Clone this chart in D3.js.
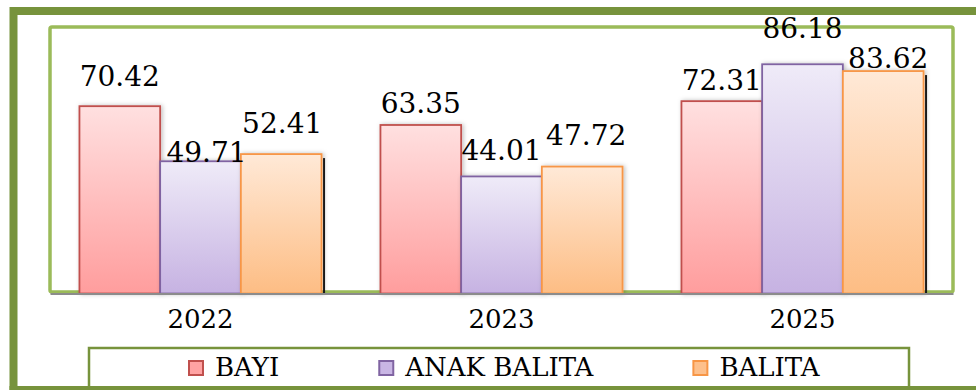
<!DOCTYPE html>
<html>
<head>
<meta charset="utf-8">
<script src="https://cdn.jsdelivr.net/npm/d3@7/dist/d3.min.js"></script>
<style>
  html, body { margin: 0; padding: 0; background: #fff; }
  svg { display: block; }
  text { font-family: "DejaVu Serif", "Liberation Serif", serif; fill: #000; }
</style>
</head>
<body>
<svg id="chart" width="976" height="390"></svg>
<script>
// Categories and series
const years = ["2022", "2023", "2025"];
const seriesNames = ["BAYI", "ANAK BALITA", "BALITA"];
const bayi = [70.42, 63.35, 72.31];
const anakBalita = [49.71, 44.01, 86.18];
const balita = [52.41, 47.72, 83.62];
const seriesValues = [bayi, anakBalita, balita];

// Label nudges (dx from bar centre, dy of baseline from bar top), per year then series
const labelNudge = [
  [[0, -20], [6, 1], [1, -21]],
  [[0, -12], [0, -16], [4, -22]],
  [[0, -11], [0, -26], [5, -3]]
];
// Groups whose last bar carries a dark edge line
const edgeLine = [true, false, true];

const styles = [
  { stroke: "#C0504D", top: "#FFE0E0", bottom: "#FF9D9D", key: "#FFA3A3" },
  { stroke: "#8064A2", top: "#EFEBF8", bottom: "#C6B2E2", key: "#C9B6E4" },
  { stroke: "#F79646", top: "#FFE9D7", bottom: "#FDBD84", key: "#FDC08C" }
];

const svg = d3.select("#chart");
const defs = svg.append("defs");

styles.forEach((s, i) => {
  const g = defs.append("linearGradient")
    .attr("id", "grad" + i).attr("x1", 0).attr("y1", 0).attr("x2", 0).attr("y2", 1);
  g.append("stop").attr("offset", "0%").attr("stop-color", s.top);
  g.append("stop").attr("offset", "100%").attr("stop-color", s.bottom);
});

const shadow = defs.append("filter").attr("id", "shadow")
  .attr("x", "-20%").attr("y", "-10%").attr("width", "140%").attr("height", "120%");
shadow.append("feDropShadow")
  .attr("dx", 1.5).attr("dy", 0).attr("stdDeviation", 2)
  .attr("flood-color", "#000").attr("flood-opacity", 0.25);

// Outer frame
svg.append("rect")
  .attr("x", 13.5).attr("y", 11).attr("width", 1000).attr("height", 379)
  .attr("fill", "none").attr("stroke", "#77933C").attr("stroke-width", 8);

// Plot area
const plot = { left: 50, right: 953, top: 27, bottom: 292 };
svg.append("rect")
  .attr("x", plot.left).attr("y", plot.top)
  .attr("width", plot.right - plot.left).attr("height", plot.bottom - plot.top)
  .attr("rx", 2)
  .attr("fill", "#fff").attr("stroke", "#9BBB59").attr("stroke-width", 3.5);

const baseY = 293.5;
const y = d3.scaleLinear().domain([0, 100]).range([baseY, 27.5]);
const x0 = d3.scaleBand().domain(years).range([plot.left, plot.right]);
const x1 = d3.scaleBand().domain(seriesNames).range([0, x0.bandwidth()])
  .paddingInner(0).paddingOuter(0.365);

const rows = years.map((yr, gi) => ({
  year: yr, gi,
  bars: seriesNames.map((name, si) => ({ name, si, gi, value: seriesValues[si][gi] }))
}));

const groups = svg.append("g").selectAll("g.group")
  .data(rows).join("g")
  .attr("class", "group")
  .attr("transform", d => `translate(${x0(d.year)},0)`);

groups.selectAll("rect.bar")
  .data(d => d.bars).join("rect")
  .attr("class", "bar")
  .attr("x", d => x1(d.name))
  .attr("y", d => y(d.value))
  .attr("width", x1.bandwidth())
  .attr("height", d => baseY - y(d.value))
  .attr("fill", d => `url(#grad${d.si})`)
  .attr("stroke", d => styles[d.si].stroke)
  .attr("stroke-width", 1.8)
  .attr("filter", "url(#shadow)");

// Dark edge at the right side of the last bar
groups.filter(d => edgeLine[d.gi])
  .append("line")
  .attr("x1", d => x1(seriesNames[2]) + x1.bandwidth() + 2.5)
  .attr("x2", d => x1(seriesNames[2]) + x1.bandwidth() + 2.5)
  .attr("y1", d => y(d.bars[2].value) + 4)
  .attr("y2", baseY)
  .attr("stroke", "#1a1a1a").attr("stroke-width", 2);

// Axis baseline
const xAxis = d3.axisBottom(x0).tickSize(0).tickPadding(0);
const axisG = svg.append("g").attr("transform", `translate(0,${baseY})`).call(xAxis);
axisG.select(".domain").attr("stroke", "#8C8C8C").attr("stroke-width", 2);
axisG.selectAll(".tick text")
  .attr("y", 34.5).attr("dy", 0)
  .style("font-family", "'DejaVu Serif', serif")
  .style("font-size", "26px").attr("fill", "#000");

// Value labels
groups.selectAll("text.val")
  .data(d => d.bars).join("text")
  .attr("class", "val")
  .attr("x", d => x1(d.name) + x1.bandwidth() / 2 + labelNudge[d.gi][d.si][0])
  .attr("y", d => y(d.value) + labelNudge[d.gi][d.si][1])
  .attr("text-anchor", "middle")
  .style("font-size", "28px")
  .text(d => d.value.toFixed(2));

// Legend
svg.append("rect")
  .attr("x", 89).attr("y", 348).attr("width", 820).attr("height", 50)
  .attr("fill", "#fff").attr("stroke", "#77933C").attr("stroke-width", 2.5);

const legend = svg.append("g");
let lx = 188;
seriesNames.forEach((name, i) => {
  const item = legend.append("g").attr("transform", `translate(${lx},0)`);
  item.append("rect")
    .attr("x", 1).attr("y", 361).attr("width", 14).attr("height", 14)
    .attr("fill", styles[i].key).attr("stroke", styles[i].stroke).attr("stroke-width", 2);
  const t = item.append("text")
    .attr("x", 27).attr("y", 376)
    .style("font-size", "26px")
    .text(name);
  lx += 27 + t.node().getComputedTextLength() + 99;
});

// Redraw outer frame bottom edge over the legend box
svg.append("line")
  .attr("x1", 9.5).attr("x2", 976).attr("y1", 390).attr("y2", 390)
  .attr("stroke", "#77933C").attr("stroke-width", 8);
</script>
</body>
</html>
